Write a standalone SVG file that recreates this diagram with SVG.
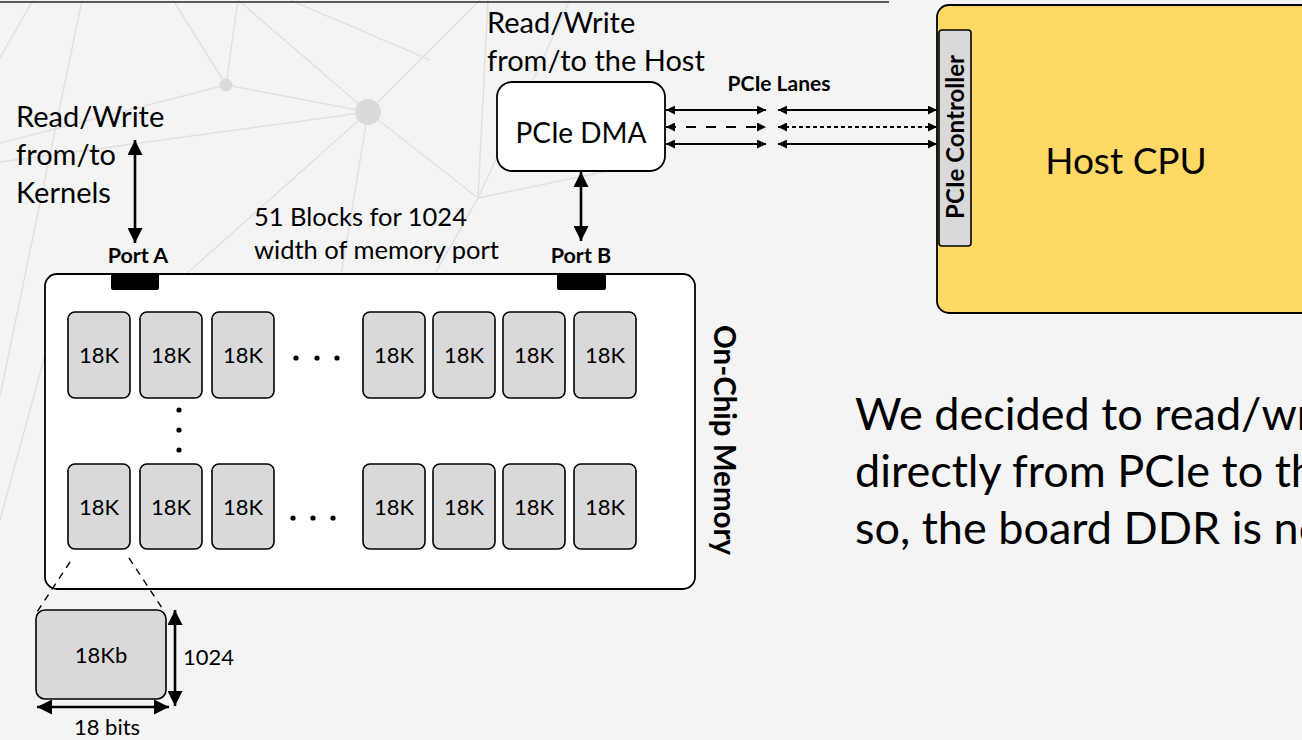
<svg xmlns="http://www.w3.org/2000/svg" width="1302" height="740" viewBox="0 0 1302 740">
  <defs>
    <style>
      .t{font-family:Lato,"Liberation Sans",sans-serif;fill:#000}
      .b{font-weight:bold}
      .net line{stroke:#e0e0e0;stroke-width:1.5;fill:none}
      .net circle{fill:#dadada}
      .blk rect{fill:#d9d9d9;stroke:#000;stroke-width:1.6}
      .blk text{font-family:Lato,"Liberation Sans",sans-serif;font-size:22px;text-anchor:middle}
      .port{fill:#000}
      .conn line{stroke:#000;fill:none}
      .thick{stroke-width:2.6}
      .thin{stroke-width:2}
      .dot{fill:#000}
    </style>
    <marker id="big" viewBox="0 0 10 10" refX="10" refY="5" markerWidth="15" markerHeight="15" markerUnits="userSpaceOnUse" orient="auto-start-reverse">
      <path d="M0,0 L10,5 L0,10 z" fill="#000"/>
    </marker>
    <marker id="small" viewBox="0 0 10 10" refX="10" refY="5" markerWidth="10" markerHeight="9" markerUnits="userSpaceOnUse" orient="auto-start-reverse">
      <path d="M0,0 L10,5 L0,10 z" fill="#000"/>
    </marker>
  </defs>

  <!-- page background -->
  <rect x="0" y="0" width="1302" height="740" fill="#f4f4f4"/>

  <!-- decorative network pattern -->
  <g class="net">
    <line x1="33" y1="0" x2="0" y2="58"/>
    <line x1="82" y1="0" x2="0" y2="396"/>
    <line x1="173" y1="0" x2="226" y2="85"/>
    <line x1="238" y1="0" x2="226" y2="85"/>
    <line x1="238" y1="0" x2="368" y2="112"/>
    <line x1="226" y1="85" x2="368" y2="112"/>
    <line x1="0" y1="143" x2="226" y2="85"/>
    <line x1="0" y1="162" x2="368" y2="112"/>
    <line x1="368" y1="112" x2="480" y2="0"/>
    <line x1="368" y1="112" x2="478" y2="198"/>
    <line x1="368" y1="112" x2="337" y2="300"/>
    <line x1="368" y1="112" x2="157" y2="300"/>
    <line x1="478" y1="198" x2="570" y2="0"/>
    <line x1="478" y1="198" x2="488" y2="0"/>
    <line x1="478" y1="198" x2="660" y2="160"/>
    <line x1="478" y1="198" x2="420" y2="300"/>
    <line x1="290" y1="0" x2="430" y2="60"/>
    <line x1="0" y1="520" x2="60" y2="300"/>
    <circle cx="226" cy="85" r="6.5"/>
    <circle cx="368" cy="112" r="13"/>
  </g>

  <!-- title rule -->
  <line x1="0" y1="2" x2="889" y2="2" stroke="#595959" stroke-width="2"/>

  <!-- on-chip memory -->
  <g id="memory">
    <rect x="45" y="274" width="650" height="315" rx="12" fill="#fff" stroke="#000" stroke-width="1.8"/>
    <text class="t b" font-size="29.5" text-anchor="middle" transform="translate(714,440) rotate(90)">On-Chip Memory</text>
  </g>

  <g id="port-a">
    <rect class="port" x="111" y="273" width="48" height="17" rx="2"/>
    <text class="t b" font-size="21.5" x="138" y="263" text-anchor="middle">Port A</text>
  </g>
  <g id="port-b">
    <rect class="port" x="557" y="273" width="49" height="17" rx="2"/>
    <text class="t b" font-size="21.5" x="581" y="263" text-anchor="middle">Port B</text>
  </g>

  <!-- BRAM blocks, top row -->
  <g id="blk-1-1" class="blk"><rect x="68" y="312" width="62" height="86" rx="7"/><text x="99" y="363">18K</text></g>
  <g id="blk-1-2" class="blk"><rect x="140" y="312" width="62" height="86" rx="7"/><text x="171" y="363">18K</text></g>
  <g id="blk-1-3" class="blk"><rect x="212" y="312" width="62" height="86" rx="7"/><text x="243" y="363">18K</text></g>
  <g id="blk-1-4" class="blk"><rect x="363" y="312" width="62" height="86" rx="7"/><text x="394" y="363">18K</text></g>
  <g id="blk-1-5" class="blk"><rect x="433" y="312" width="62" height="86" rx="7"/><text x="464" y="363">18K</text></g>
  <g id="blk-1-6" class="blk"><rect x="503" y="312" width="62" height="86" rx="7"/><text x="534" y="363">18K</text></g>
  <g id="blk-1-7" class="blk"><rect x="574" y="312" width="62" height="86" rx="7"/><text x="605" y="363">18K</text></g>

  <!-- BRAM blocks, bottom row -->
  <g id="blk-2-1" class="blk"><rect x="68" y="464" width="62" height="85" rx="7"/><text x="99" y="515">18K</text></g>
  <g id="blk-2-2" class="blk"><rect x="140" y="464" width="62" height="85" rx="7"/><text x="171" y="515">18K</text></g>
  <g id="blk-2-3" class="blk"><rect x="212" y="464" width="62" height="85" rx="7"/><text x="243" y="515">18K</text></g>
  <g id="blk-2-4" class="blk"><rect x="363" y="464" width="62" height="85" rx="7"/><text x="394" y="515">18K</text></g>
  <g id="blk-2-5" class="blk"><rect x="433" y="464" width="62" height="85" rx="7"/><text x="464" y="515">18K</text></g>
  <g id="blk-2-6" class="blk"><rect x="503" y="464" width="62" height="85" rx="7"/><text x="534" y="515">18K</text></g>
  <g id="blk-2-7" class="blk"><rect x="574" y="464" width="62" height="85" rx="7"/><text x="605" y="515">18K</text></g>

  <!-- ellipses -->
  <g id="ellipsis">
    <circle class="dot" cx="296" cy="358" r="2.6"/>
    <circle class="dot" cx="317" cy="358" r="2.6"/>
    <circle class="dot" cx="337" cy="358" r="2.6"/>
    <circle class="dot" cx="293" cy="518" r="2.6"/>
    <circle class="dot" cx="313" cy="518" r="2.6"/>
    <circle class="dot" cx="333" cy="518" r="2.6"/>
    <circle class="dot" cx="179" cy="410" r="2.6"/>
    <circle class="dot" cx="179" cy="430" r="2.6"/>
    <circle class="dot" cx="179" cy="450" r="2.6"/>
  </g>

  <!-- single block detail -->
  <g id="blk-detail" class="blk">
    <rect x="36" y="610" width="130" height="89" rx="9"/>
    <text x="101" y="663">18Kb</text>
  </g>

  <!-- labels -->
  <g id="label-kernels">
    <text class="t" font-size="29" x="16" y="127">Read/Write</text>
    <text class="t" font-size="29" x="16" y="165">from/to</text>
    <text class="t" font-size="29" x="16" y="203">Kernels</text>
  </g>
  <g id="label-host">
    <text class="t" font-size="29" x="487" y="33">Read/Write</text>
    <text class="t" font-size="29" x="487" y="71">from/to the Host</text>
  </g>
  <g id="label-blocks">
    <text class="t" font-size="25.5" x="254" y="226">51 Blocks for 1024</text>
    <text class="t" font-size="25.5" x="254" y="259">width of memory port</text>
  </g>
  <g id="label-dims">
    <text class="t" font-size="22" x="183" y="665">1024</text>
    <text class="t" font-size="22" x="107" y="735" text-anchor="middle">18 bits</text>
  </g>
  <text id="label-lanes" class="t b" font-size="21" x="779" y="91" text-anchor="middle">PCIe Lanes</text>

  <!-- PCIe DMA -->
  <g id="pcie-dma">
    <rect x="497" y="82" width="168" height="89" rx="15" fill="#fff" stroke="#000" stroke-width="1.8"/>
    <text class="t" font-size="28" x="581" y="143" text-anchor="middle">PCIe DMA</text>
  </g>

  <!-- Host CPU -->
  <g id="host-cpu">
    <rect x="937" y="5" width="400" height="308" rx="12" fill="#ffd966" stroke="#000" stroke-width="1.8"/>
    <text class="t" font-size="37" x="1126" y="174" text-anchor="middle">Host CPU</text>
  </g>
  <g id="pcie-controller">
    <rect x="939" y="30" width="32" height="216" rx="3" fill="#d9d9d9" stroke="#000" stroke-width="1.6"/>
    <text class="t b" font-size="24" text-anchor="middle" transform="translate(964,137) rotate(-90)">PCIe Controller</text>
  </g>

  <!-- connectors -->
  <g id="connectors" class="conn">
    <line class="thick" x1="135" y1="140" x2="135" y2="243" marker-start="url(#big)" marker-end="url(#big)"/>
    <line class="thick" x1="581" y1="172" x2="581" y2="241" marker-start="url(#big)" marker-end="url(#big)"/>
    <!-- PCIe lanes -->
    <line class="thin" x1="666" y1="110" x2="766" y2="110" marker-start="url(#small)" marker-end="url(#small)"/>
    <line class="thin" x1="666" y1="127" x2="766" y2="127" stroke-dasharray="10 10" marker-start="url(#small)" marker-end="url(#small)"/>
    <line class="thin" x1="666" y1="144" x2="766" y2="144" marker-start="url(#small)" marker-end="url(#small)"/>
    <line class="thin" x1="778" y1="110" x2="937" y2="110" marker-start="url(#small)" marker-end="url(#small)"/>
    <line class="thin" x1="778" y1="127" x2="937" y2="127" stroke-dasharray="4 3" marker-start="url(#small)" marker-end="url(#small)"/>
    <line class="thin" x1="778" y1="144" x2="937" y2="144" marker-start="url(#small)" marker-end="url(#small)"/>
    <!-- zoom-out guides -->
    <line x1="70" y1="562" x2="37" y2="612" stroke-width="1.4" stroke-dasharray="7 6"/>
    <line x1="129" y1="558" x2="164" y2="611" stroke-width="1.4" stroke-dasharray="7 6"/>
    <!-- dimension arrows -->
    <line class="thick" x1="175" y1="610" x2="175" y2="706" marker-start="url(#big)" marker-end="url(#big)"/>
    <line class="thick" x1="37" y1="707" x2="169" y2="707" marker-start="url(#big)" marker-end="url(#big)"/>
  </g>

  <!-- note, running past the right edge of the page -->
  <g id="note">
    <text class="t" font-size="45" x="855" y="430">We decided to read/wr</text>
    <text class="t" font-size="45" x="855" y="487">directly from PCIe to th</text>
    <text class="t" font-size="45" x="855" y="544">so, the board DDR is no</text>
  </g>
</svg>
